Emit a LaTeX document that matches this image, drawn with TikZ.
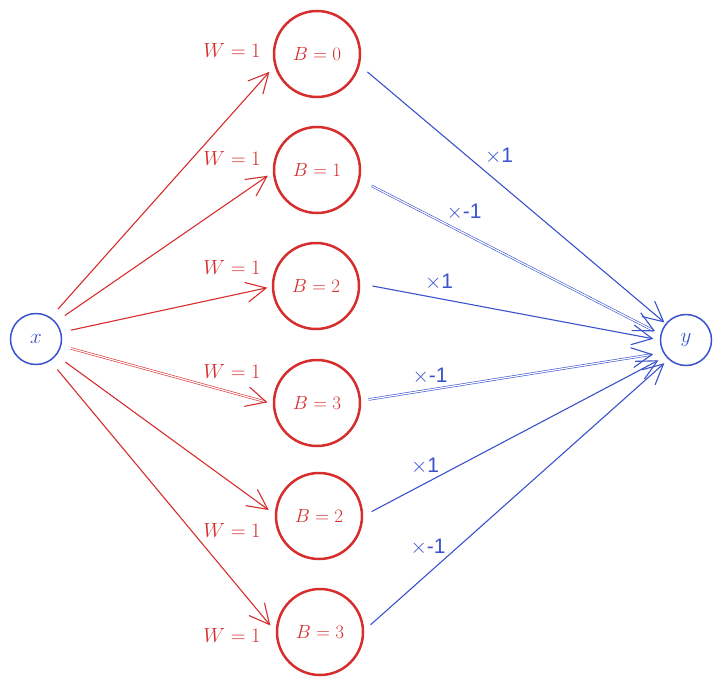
\RequirePackage{fix-cm}
\documentclass[tikz,border=0pt]{standalone}
\usepackage{fontspec}
\newfontfamily\labfont{Liberation Sans}
\usetikzlibrary{arrows.meta}
\definecolor{sred}{RGB}{214,45,45}
\definecolor{sblue}{RGB}{59,82,204}
\begin{document}
\begin{tikzpicture}[x=1pt,y=-1pt,
 redc/.style={circle,draw=sred,line width=2.5pt,minimum size=86pt,inner sep=0pt,text=sred,font=\fontsize{19}{22}\selectfont},
 bluec/.style={circle,draw=sblue,line width=1.5pt,minimum size=51pt,inner sep=0pt,text=sblue,font=\fontsize{21}{24}\selectfont},
 redarr/.style={draw=sred,line width=1.1pt,-{Straight Barb[length=20pt,width=20pt,line width=1.1pt]}},
 bluearr/.style={draw=sblue,line width=1.1pt,-{Straight Barb[length=20pt,width=20pt,line width=1.1pt]}},
 dbl/.style={double,double distance=1.2pt,line width=0.6pt},
 wlab/.style={text=sred,font=\fontsize{20.5}{24}\selectfont},
 mlab/.style={text=sblue,font=\labfont\fontsize{21}{24}\selectfont},
]
\useasboundingbox (0,0) rectangle (722,685);
\node[bluec] (x) at (36,339) {$x$};
\node[bluec] (y) at (686,340) {$y$};
\node[redc] (b0) at (317,54) {$B=0$};
\node[redc] (b1) at (317,170) {$B=1$};
\node[redc] (b2) at (316,286) {$B=2$};
\node[redc] (b3) at (317,403) {$B=3$};
\node[redc] (b4) at (319,516) {$B=2$};
\node[redc] (b5) at (320,632) {$B=3$};
% red connectors
\draw[redarr,shorten <=11pt,shorten >=7.5pt] (x.56) -- (b0.196);
\draw[redarr,shorten <=11pt,shorten >=6pt] (x.41) -- (b1.183);
\draw[redarr,shorten <=10pt,shorten >=4.5pt] (x.15) -- (b2.181);
\draw[redarr,dbl,shorten <=10pt,shorten >=5.5pt] (x.-15) -- (b3.181);
\draw[redarr,shorten <=11pt,shorten >=7.5pt] (x.-39) -- (b4.178);
\draw[redarr,shorten <=11pt,shorten >=8.5pt] (x.-57) -- (b5.180);
% blue connectors
\draw[bluearr,shorten <=10pt,shorten >=1.5pt] (b0.-15) -- (y.141);
\draw[bluearr,dbl,shorten <=13pt,shorten >=6pt] (b1.-13) -- (y.167);
\draw[bluearr,shorten <=12.5pt,shorten >=6.5pt] (b2.3) -- (y.180);
\draw[bluearr,dbl,shorten <=7.5pt,shorten >=10pt] (b3.3) -- (y.209);
\draw[bluearr,shorten <=9.5pt,shorten >=8pt] (b4.0) -- (y.219);
\draw[bluearr,shorten <=8.5pt,shorten >=5.5pt] (b5.2) -- (y.228);
% labels
\node[wlab] (w0) at (232,50) {$W=1$};
\node[wlab] (w1) at (232,158) {$W=1$};
\node[wlab] (w2) at (232,267) {$W=1$};
\node[wlab] (w3) at (232,371) {$W=1$};
\node[wlab] (w4) at (232,530) {$W=1$};
\node[wlab] (w5) at (232,635) {$W=1$};
\node[mlab] (m0) at (499,156) {$\times$1};
\node[mlab] (m1) at (464,212) {$\times$-1};
\node[mlab] (m2) at (439,282) {$\times$1};
\node[mlab] (m3) at (430,376) {$\times$-1};
\node[mlab] (m4) at (425,466) {$\times$1};
\node[mlab] (m5) at (428,547) {$\times$-1};
\end{tikzpicture}
\end{document}
